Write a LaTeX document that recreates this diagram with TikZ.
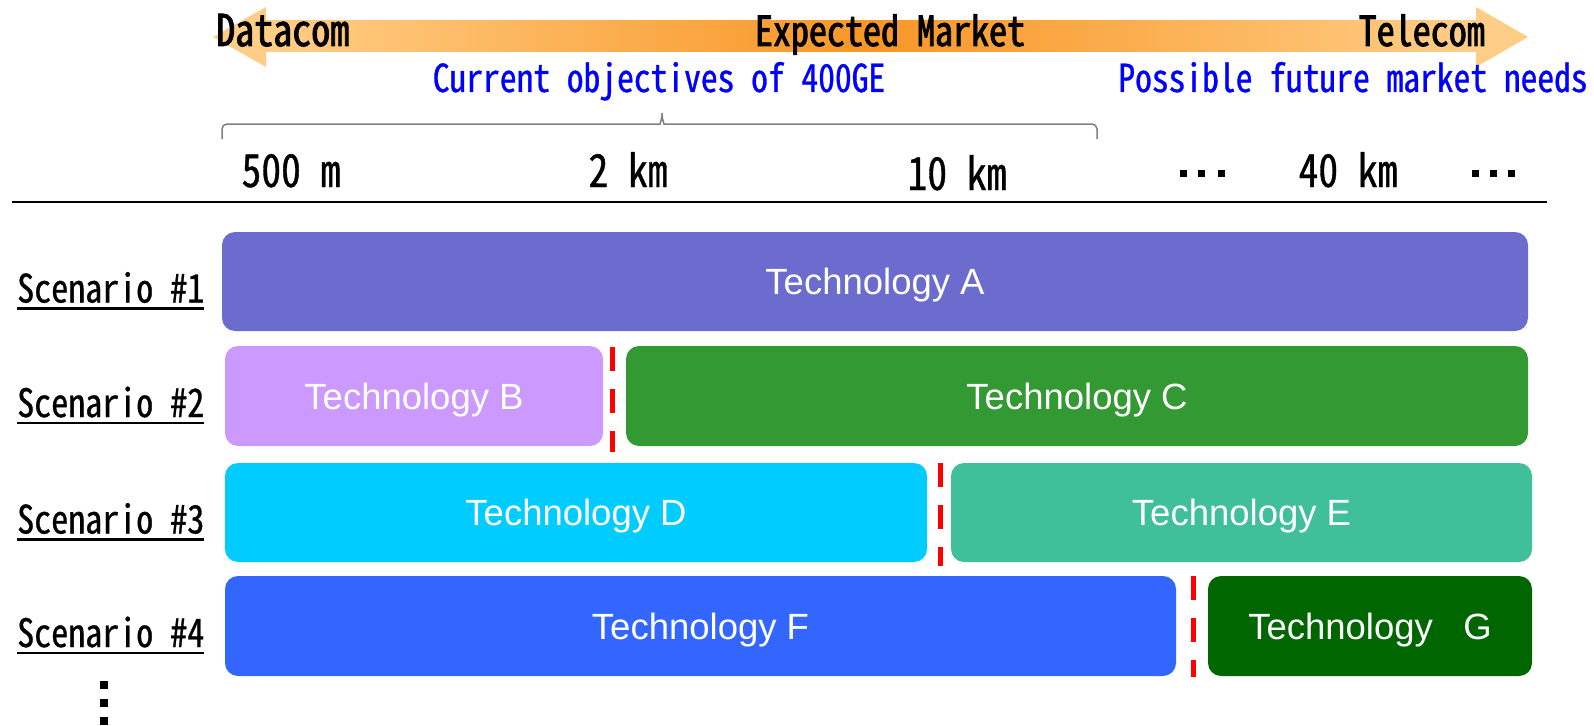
\documentclass[tikz,border=0pt]{standalone}
\usepackage{fontspec}
\setmainfont{Liberation Sans}
\newfontfamily\gothic[RawFeature=+hwid, FakeStretch=0.87, Scale=1.15]{Noto Sans CJK JP}
\newfontfamily\gothicmed[RawFeature=+hwid, FakeStretch=0.87, Scale=1.15, FakeBold=0.8]{Noto Sans CJK JP}
\newfontfamily\gothicheavy[RawFeature=+hwid, FakeStretch=0.87, Scale=1.15, FakeBold=2]{Noto Sans CJK JP}

\definecolor{techA}{RGB}{107,108,206}
\definecolor{techB}{RGB}{204,153,255}
\definecolor{techC}{RGB}{51,153,51}
\definecolor{techD}{RGB}{0,204,255}
\definecolor{techE}{RGB}{64,192,154}
\definecolor{techF}{RGB}{51,102,255}
\definecolor{techG}{RGB}{0,102,0}
\definecolor{arrowLight}{RGB}{255,206,134}
\definecolor{arrowDeep}{RGB}{248,150,38}
\definecolor{bracegray}{RGB}{128,128,128}

\tikzset{
  marketlabel/.style={font={\gothicheavy\fontsize{36}{40}\selectfont}, inner sep=0pt, anchor=base},
  goallabel/.style={font={\gothicmed\fontsize{33.5}{38}\selectfont}, text=blue, inner sep=0pt, anchor=base},
  distlabel/.style={font={\gothicmed\fontsize{39.5}{44}\selectfont}, inner sep=0pt, anchor=base},
  scenlabel/.style={font={\gothicmed\fontsize{34}{38}\selectfont}, inner sep=0pt, anchor=base west},
  techbox/.style={rectangle, rounded corners=13pt, text=white, inner sep=0pt,
    text height=26pt, text depth=0pt, font={\fontsize{36.5}{40}\selectfont}},
  divider/.style={red, line width=5pt, dash pattern=on 24pt off 18pt},
  sqdot/.style={fill=black, minimum size=7pt, inner sep=0pt, rectangle},
  underbar/.style={line width=2.2pt},
}

\begin{document}
\begin{tikzpicture}[x=1pt, y=-1pt]
\useasboundingbox (0,0) rectangle (1594,725);

% market arrow: shaded body with light heads on both ends
\shade[left color=arrowLight, right color=arrowLight, middle color=arrowDeep]
  (266,21) rectangle (1476,52);
\fill[arrowLight] (266,7) -- (213,37) -- (266,67) -- cycle;
\fill[arrowLight] (1476,7) -- (1528,37) -- (1476,67) -- cycle;

\node[marketlabel, anchor=base west, font={\gothicheavy\fontsize{38}{42}\selectfont}] (datacom) at (216,46) {Datacom};
\node[marketlabel] (market) at (890,46) {Expected Market};
\node[marketlabel, anchor=base east] (telecom) at (1485,46) {Telecom};

\node[goallabel] (current) at (659,92) {Current objectives of 400GE};
\node[goallabel] (future) at (1353,92) {Possible future market needs};

% brace over the current objectives
\draw[bracegray, line width=1.5pt, rounded corners=5pt]
  (222,139) -- (222,124) -- (655,124)
  .. controls (660,124) and (662,118) .. (662,110)
  .. controls (662,118) and (664,124) .. (669,124)
  -- (1097,124) -- (1097,139);

% reach labels
\node[distlabel] (d500) at (291,187) {500 m};
\node[distlabel] (d2) at (628,187) {2 km};
\node[distlabel] (d10) at (957,190) {10 km};
\node[distlabel] (d40) at (1348,187) {40 km};
\foreach \x [count=\i] in {1183.5,1201.5,1221.5}
  \node[sqdot] (gapdot\i) at (\x,173.5) {};
\foreach \x [count=\i] in {1475,1493.5,1511.5}
  \node[sqdot] (moredot\i) at (\x,173.5) {};

\draw[line width=2pt] (12,202) -- (1547,202);

% technology bars
\node[techbox, fill=techA, minimum width=1306pt, minimum height=99pt] (tA) at (875,281.5) {Technology A};
\node[techbox, fill=techB, minimum width=378pt, minimum height=100pt] (tB) at (414,396) {Technology B};
\node[techbox, fill=techC, minimum width=902pt, minimum height=100pt] (tC) at (1077,396) {Technology C};
\node[techbox, fill=techD, minimum width=702pt, minimum height=99pt] (tD) at (576,512.5) {Technology D};
\node[techbox, fill=techE, minimum width=581pt, minimum height=99pt] (tE) at (1241.5,512.5) {Technology E};
\node[techbox, fill=techF, minimum width=951pt, minimum height=100pt] (tF) at (700.5,626) {Technology F};
\node[techbox, fill=techG, minimum width=324pt, minimum height=100pt] (tG) at (1370,626) {Technology\ \ \ G};

% boundaries between technologies
\draw[divider] (612.5,347) -- (612.5,452);
\draw[divider] (940,463) -- (940,566);
\draw[divider] (1193,576) -- (1193,677);

% scenario names, each underlined
\node[scenlabel] (s1) at (17,302.5) {Scenario \#1};
\node[scenlabel] (s2) at (17,417) {Scenario \#2};
\node[scenlabel] (s3) at (17,533.5) {Scenario \#3};
\node[scenlabel] (s4) at (17,647) {Scenario \#4};
\foreach \s in {s1,s2,s3,s4}
  \draw[underbar] ([yshift=-6pt]\s.base west) -- ([yshift=-6pt]\s.base east);
\foreach \y [count=\i] in {684.5,703,721}
  \node[sqdot, minimum size=8pt] (vdot\i) at (104,\y) {};
\end{tikzpicture}
\end{document}
